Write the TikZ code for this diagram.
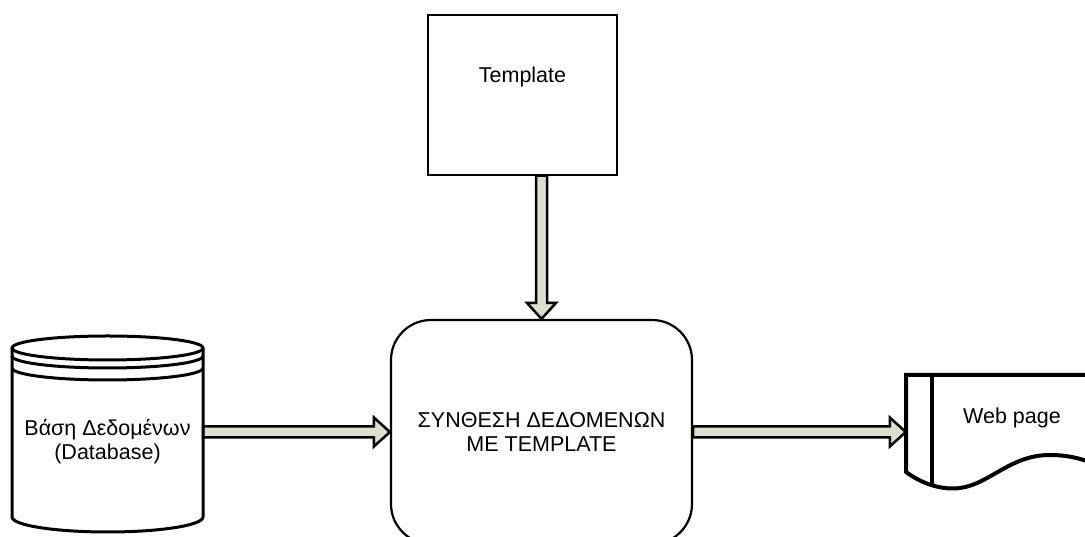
\documentclass[tikz,border=0pt]{standalone}
\usepackage{fontspec}
\setmainfont{Liberation Sans}
\usetikzlibrary{calc}
\pgfdeclarelayer{edgelayer}
\pgfdeclarelayer{nodelayer}
\pgfsetlayers{edgelayer,nodelayer,main}
\definecolor{arrowfill}{RGB}{221,223,204}
\tikzset{font=\fontsize{21.5}{24}\selectfont}
\tikzstyle{none}=[inner sep=0pt]
\tikzstyle{tmplbox}=[draw,line width=1.3pt,inner sep=0pt,minimum width=189pt,minimum height=160pt]
\tikzstyle{procbox}=[draw,line width=2.2pt,rounded corners=40pt,align=center,minimum width=301pt,minimum height=224pt]
\tikzstyle{dbbox}=[inner sep=0pt,minimum width=191pt,minimum height=196pt]
\tikzstyle{pagebox}=[inner sep=0pt,minimum width=204pt,minimum height=113pt]
\tikzstyle{fatarrow}=[draw=black,fill=arrowfill,line width=2.5pt,line join=miter,
	to path={($(\tikztotarget)!16pt!(\tikztostart)$) coordinate (head)
		($(\tikztostart)!5.5pt!90:(\tikztotarget)$)
		-- ($(head)!5.5pt!90:(\tikztotarget)$)
		-- ($(head)!14.5pt!90:(\tikztotarget)$)
		-- (\tikztotarget)
		-- ($(head)!14.5pt!-90:(\tikztotarget)$)
		-- ($(head)!5.5pt!-90:(\tikztotarget)$)
		-- ($(\tikztostart)!5.5pt!-90:(\tikztotarget)$)
		-- cycle}]

\begin{document}
\begin{tikzpicture}[x=1pt,y=1pt]
	\useasboundingbox (0,0) rectangle (1085,537);
	\begin{pgfonlayer}{nodelayer}
		\node [style=tmplbox,label={[none,yshift=18pt]center:Template}] (tmpl) at (522.5,442) {};
		\node [style=procbox] (proc) at (541.5,105) {ΣΥΝΘΕΣΗ ΔΕΔΟΜΕΝΩΝ\\ΜΕ TEMPLATE};
		\node [style=dbbox,label={[none,align=center,yshift=-8pt]center:Βάση Δεδομένων\\(Database)}] (db) at (107.5,103) {};
		\node [style=pagebox,label={[none,xshift=4pt,yshift=13.5pt]center:Web page}] (web) at (1008,105.5) {};
		% database drum with three rims on top
		\draw[line width=3pt] (12,189) arc[start angle=180,end angle=0,x radius=95.5,y radius=12]
			-- (203,20) arc[start angle=0,end angle=-180,x radius=95.5,y radius=15] -- cycle;
		\draw[line width=3pt] (12,189) arc[start angle=180,end angle=360,x radius=95.5,y radius=12];
		\draw[line width=3pt] (12,181) arc[start angle=180,end angle=360,x radius=95.5,y radius=12];
		\draw[line width=3pt] (12,169) arc[start angle=180,end angle=360,x radius=95.5,y radius=12];
		% document with wavy bottom
		\draw[line width=4pt,line join=miter] (906,65) -- (906,162) -- (1110,162) -- (1110,67)
			.. controls (1090,75) and (1075,82) .. (1050,82)
			.. controls (1010,82) and (990,53) .. (960,49)
			.. controls (945,47) and (925,51) .. (906,65) -- cycle;
		\draw[line width=4pt] (932,162) -- (932,51);
	\end{pgfonlayer}
	\begin{pgfonlayer}{edgelayer}
		\draw[fatarrow] (proc.north |- tmpl.south) to (proc.north);
		\draw[fatarrow] (db.east |- proc.west) to (proc.west);
		\draw[fatarrow] (proc.east) to (proc.east -| web.west);
	\end{pgfonlayer}
\end{tikzpicture}
\end{document}
